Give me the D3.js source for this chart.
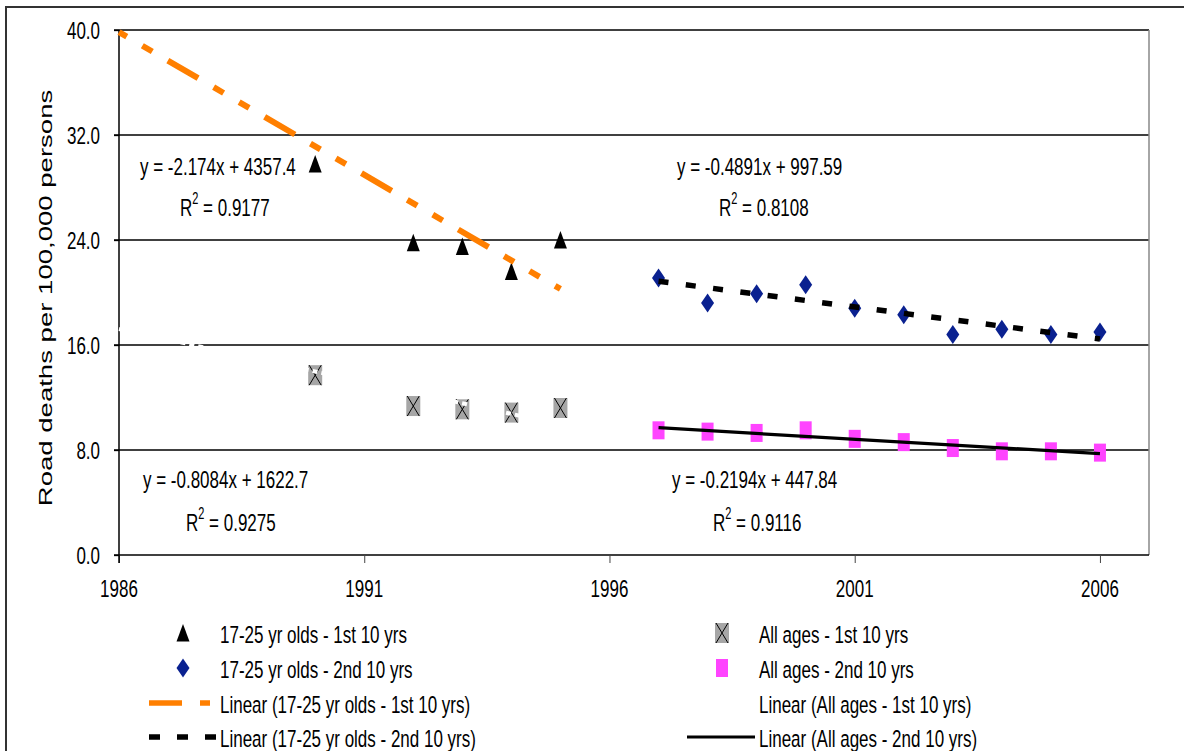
<!doctype html>
<html lang="en">
<head>
  <meta charset="utf-8">
  <title>Road deaths per 100,000 persons</title>
  <style>
    body { margin: 0; background: #fff; }
    svg { display: block; font-family: "Liberation Sans", Arial, sans-serif; }
  </style>
</head>
<body>
  <div id="chart"></div>

  <script src="https://d3js.org/d3.v7.min.js"></script>
  <script>
// data
const years1 = [1990, 1992, 1993, 1994, 1995];
const years2 = [1997, 1998, 1999, 2000, 2001, 2002, 2003, 2004, 2005, 2006];
const youth1 = [29.8, 23.8, 23.5, 21.6, 24.0];       // 17-25 yr olds - 1st 10 yrs
const youth2 = [21.1, 19.2, 19.9, 20.6, 18.8, 18.3, 16.8, 17.2, 16.8, 17.0];
const allAges1 = [13.7, 11.35, 11.1, 10.85, 11.2];   // All ages - 1st 10 yrs
const allAges2 = [9.5, 9.4, 9.3, 9.5, 8.85, 8.6, 8.15, 7.9, 7.9, 7.8];

// trend lines as printed on the chart
const fitSlopes = [-2.174, -0.4891, -0.8084, -0.2194];
const fitIntercepts = [4357.4, 997.59, 1622.7, 447.84];
const fitFrom = [1986, 1997, 1986, 1997];
const fitTo = [1995, 2006, 1995, 2006];
const fitR2 = ['0.9177', '0.8108', '0.9275', '0.9116'];

const xTicks = [1986, 1991, 1996, 2001, 2006];
const yTicks = [0, 8, 16, 24, 32, 40];

const W = 1184, H = 751;
const SY = 1.45; // the picture is stretched vertically

const svg = d3.select('#chart').append('svg')
  .attr('width', W)
  .attr('height', H);

const x = d3.scaleLinear().domain([1986, 2007]).range([119, 1149]);
const y = d3.scaleLinear().domain([0, 40]).range([555, 30]);

// outer frame (top + left visible)
svg.append('path')
  .attr('d', `M6,${H} L6,7 L${W},7`)
  .attr('fill', 'none')
  .attr('stroke', '#333')
  .attr('stroke-width', 2);

// helper for stretched text
function label(g, px, py, anchor) {
  return g.append('text')
    .attr('transform', `translate(${px},${py}) scale(1,${SY})`)
    .attr('text-anchor', anchor || 'start')
    .attr('font-size', 17)
    .attr('fill', '#000');
}

// gridlines
svg.append('g')
  .selectAll('line')
  .data(yTicks.filter(d => d > 0))
  .join('line')
  .attr('x1', x(1986) - 5)
  .attr('x2', x(2007))
  .attr('y1', d => y(d))
  .attr('y2', d => y(d))
  .attr('stroke', '#000')
  .attr('stroke-width', 1.3);

// right edge of plot
svg.append('line')
  .attr('x1', x(2007)).attr('x2', x(2007))
  .attr('y1', y(40)).attr('y2', y(0))
  .attr('stroke', '#888').attr('stroke-width', 1.5);

// x axis
const xAxis = d3.axisBottom(x)
  .tickValues(xTicks)
  .tickSize(8)
  .tickFormat(d3.format('d'));
const gx = svg.append('g')
  .attr('transform', `translate(0,${y(0)})`)
  .call(xAxis);
gx.select('.domain').attr('stroke', '#000').attr('stroke-width', 1.5)
  .attr('d', `M${x(1986) - 5},0H${x(2007)}`);
gx.selectAll('.tick line').attr('stroke', '#444').attr('stroke-width', 1);
gx.selectAll('.tick text').remove();
xTicks.forEach(t => label(svg, x(t), 597, 'middle').text(t));

// y axis
const yAxis = d3.axisLeft(y).tickValues(yTicks).tickSize(5).tickFormat(d3.format('.1f'));
const gy = svg.append('g')
  .attr('transform', `translate(${x(1986)},0)`)
  .call(yAxis);
gy.select('.domain').attr('stroke', '#000').attr('stroke-width', 1.5)
  .attr('d', `M0,${y(40)}V${y(0) + 8}`);
gy.selectAll('.tick line').attr('stroke', '#000').attr('stroke-width', 1.3);
gy.selectAll('.tick text').remove();
yTicks.forEach(t => label(svg, 100, y(t) + 8.5, 'end').text(d3.format('.1f')(t)));

// y axis title
svg.append('text')
  .attr('transform', `translate(52,298) rotate(-90) scale(${SY},1)`)
  .attr('text-anchor', 'middle')
  .attr('font-size', 19)
  .attr('fill', '#000')
  .text('Road deaths per 100,000 persons');

// markers
const triangle = (cx, cy) => `M${cx},${cy - 9}L${cx + 6.5},${cy + 8.5}L${cx - 6.5},${cy + 8.5}Z`;
const diamond = (cx, cy) => `M${cx},${cy - 9.5}L${cx + 6.5},${cy}L${cx},${cy + 9.5}L${cx - 6.5},${cy}Z`;

function grayBox(g, cx, cy) {
  g.append('rect').attr('x', cx - 7).attr('y', cy - 10).attr('width', 14).attr('height', 20)
    .attr('fill', '#a6a6a6');
  g.append('path')
    .attr('d', `M${cx - 6},${cy - 10}L${cx + 6},${cy + 10}M${cx + 6},${cy - 10}L${cx - 6},${cy + 10}`)
    .attr('stroke', '#000').attr('stroke-width', 1);
}
function pinkBox(g, cx, cy) {
  g.append('rect').attr('x', cx - 6).attr('y', cy - 9).attr('width', 12).attr('height', 18)
    .attr('fill', '#ff44ff');
}

const marks = svg.append('g');
years1.forEach((yr, i) => grayBox(marks, x(yr), y(allAges1[i])));
years2.forEach((yr, i) => pinkBox(marks, x(yr), y(allAges2[i])));
marks.selectAll('path.tri')
  .data(years1)
  .join('path')
  .attr('class', 'tri')
  .attr('d', (d, i) => triangle(x(d), y(youth1[i])))
  .attr('fill', '#000');
marks.selectAll('path.dia')
  .data(years2)
  .join('path')
  .attr('class', 'dia')
  .attr('d', (d, i) => diamond(x(d), y(youth2[i])))
  .attr('fill', '#0a2190');

// trend lines
const fitStyles = [
  { stroke: '#ff7f00', width: 6, dash: '35,18,11.5,18,11.5,18', offset: 55.5 },
  { stroke: '#000', width: 5.5, dash: '10,17.5', offset: 0 },
  { stroke: '#fff', width: 4, dash: '5,4', offset: 0 },
  { stroke: '#000', width: 3.2, dash: null, offset: 0 }
];
fitSlopes.forEach((m, i) => {
  const x0 = fitFrom[i], x1 = fitTo[i];
  const st = fitStyles[i];
  svg.append('line')
    .attr('x1', x(x0)).attr('y1', y(m * x0 + fitIntercepts[i]))
    .attr('x2', x(x1)).attr('y2', y(m * x1 + fitIntercepts[i]))
    .attr('stroke', st.stroke)
    .attr('stroke-width', st.width)
    .attr('stroke-dasharray', st.dash)
    .attr('stroke-dashoffset', st.offset);
});

// equations and R²
const eqPos = [[140, 175, 180, 216], [677, 175, 719, 216], [143, 488, 186, 531], [672, 488, 713, 531]];
fitSlopes.forEach((m, i) => {
  const p = eqPos[i];
  label(svg, p[0], p[1]).text(`y = ${m}x + ${fitIntercepts[i]}`);
  const r = label(svg, p[2], p[3]);
  r.append('tspan').text('R');
  r.append('tspan').attr('font-size', 11).attr('dy', -8).text('2');
  r.append('tspan').attr('dy', 8).text(` = ${fitR2[i]}`);
});

// legend
const legend = svg.append('g');
const rowY = [633, 668, 703, 737];
legend.append('path').attr('d', triangle(183, rowY[0])).attr('fill', '#000');
legend.append('path').attr('d', diamond(183, rowY[1])).attr('fill', '#0a2190');
legend.append('line').attr('x1', 149).attr('x2', 210).attr('y1', rowY[2]).attr('y2', rowY[2])
  .attr('stroke', '#ff7f00').attr('stroke-width', 5.5).attr('stroke-dasharray', '33,18,10');
legend.append('line').attr('x1', 149).attr('x2', 216).attr('y1', rowY[3]).attr('y2', rowY[3])
  .attr('stroke', '#000').attr('stroke-width', 5.5).attr('stroke-dasharray', '11,17');
grayBox(legend, 722, rowY[0]);
pinkBox(legend, 722, rowY[1]);
legend.append('line').attr('x1', 687).attr('x2', 755).attr('y1', rowY[3]).attr('y2', rowY[3])
  .attr('stroke', '#000').attr('stroke-width', 3);

const leftNames = ['17-25 yr olds - 1st 10 yrs', '17-25 yr olds - 2nd 10 yrs',
  'Linear (17-25 yr olds - 1st 10 yrs)', 'Linear (17-25 yr olds - 2nd 10 yrs)'];
const rightNames = ['All ages - 1st 10 yrs', 'All ages - 2nd 10 yrs',
  'Linear (All ages - 1st 10 yrs)', 'Linear (All ages - 2nd 10 yrs)'];
leftNames.forEach((n, i) => label(legend, 220, rowY[i] + 9.5).text(n));
rightNames.forEach((n, i) => label(legend, 759, rowY[i] + 9.5).text(n));
  </script>
</body>
</html>
